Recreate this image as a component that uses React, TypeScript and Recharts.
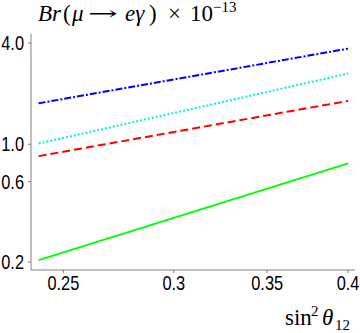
import { Line, LineChart, XAxis, YAxis } from "recharts";

// sin^2 theta_12 at the two ends of each curve
const sinSq12 = [0.24, 0.4];

// Br(mu -> e gamma) x 10^-13
const brDashDot = [1.75, 3.7];
const brDotted = [1.01, 2.63];
const brDashed = [0.85, 1.81];
const brSolid = [0.205, 0.77];

const xTicks = [0.25, 0.3, 0.35, 0.4];
const yTicks = [0.2, 0.6, 1.0, 4.0];

const data = sinSq12.map((x, i) => ({
  x,
  dashDot: brDashDot[i],
  dotted: brDotted[i],
  dashed: brDashed[i],
  solid: brSolid[i],
}));

const frame = "#808080";
const serif = "'Liberation Serif', serif";

// narrow helvetica-looking tick labels
function NarrowTick(props: any) {
  const { x, y, payload, textAnchor, vertical, fmt } = props;
  return (
    <g transform={`translate(${x},${y})`}>
      <text
        transform="scale(0.82,1)"
        textAnchor={textAnchor}
        dy={vertical ? "0.355em" : "0.71em"}
        fontFamily="'Liberation Sans', Arial, sans-serif"
        fontSize={20}
        fill="#000"
      >
        {fmt(payload.value)}
      </text>
    </g>
  );
}

export default function App() {
  return (
    <div
      style={{
        position: "absolute",
        left: 0,
        top: 0,
        width: 360,
        height: 333,
        background: "#fff",
      }}
    >
      <LineChart
        width={360}
        height={333}
        data={data}
        margin={{ top: 34, right: 5, bottom: 33, left: 0 }}
      >
        <XAxis
          dataKey="x"
          type="number"
          scale="log"
          domain={[0.237, 0.4046]}
          allowDataOverflow
          ticks={xTicks}
          tick={<NarrowTick fmt={(v: number) => String(v)} />}
          tickSize={3}
          tickMargin={3}
          height={30}
          stroke={frame}
        />
        <XAxis
          xAxisId="top"
          dataKey="x"
          type="number"
          scale="log"
          domain={[0.237, 0.4046]}
          allowDataOverflow
          orientation="top"
          tick={false}
          height={0}
          stroke={frame}
        />
        <YAxis
          type="number"
          scale="log"
          domain={[0.179, 4.52]}
          allowDataOverflow
          ticks={yTicks}
          tick={<NarrowTick vertical fmt={(v: number) => v.toFixed(1)} />}
          tickSize={3}
          tickMargin={4}
          width={31}
          stroke={frame}
        />
        <YAxis
          yAxisId="right"
          type="number"
          scale="log"
          domain={[0.179, 4.52]}
          allowDataOverflow
          orientation="right"
          tick={false}
          width={0}
          stroke={frame}
        />
        <Line
          dataKey="dashDot"
          stroke="#0000ff"
          strokeWidth={2}
          strokeDasharray="7 2 2 2"
          dot={false}
          isAnimationActive={false}
        />
        <Line
          dataKey="dotted"
          stroke="#00f0d0"
          strokeWidth={2}
          strokeDasharray="2 2"
          dot={false}
          isAnimationActive={false}
        />
        <Line
          dataKey="dashed"
          stroke="#ff0000"
          strokeWidth={2}
          strokeDasharray="8 4"
          dot={false}
          isAnimationActive={false}
        />
        <Line
          dataKey="solid"
          stroke="#00ff00"
          strokeWidth={2}
          dot={false}
          isAnimationActive={false}
        />
      </LineChart>
      <svg
        width={360}
        height={333}
        style={{ position: "absolute", left: 0, top: 0, pointerEvents: "none" }}
      >
        <g fontFamily={serif} fontSize={23} fill="#000">
          <text x={38} y={21} fontStyle="italic">Br</text>
          <text x={63} y={21}>(</text>
          <text x={72} y={21} fontStyle="italic">μ</text>
          <text
            x={88}
            y={20}
            fontFamily="'DejaVu Serif', serif"
            fontSize={20}
            textLength={30}
            lengthAdjust="spacingAndGlyphs"
          >
            →
          </text>
          <text x={125} y={21} fontStyle="italic">eγ</text>
          <text x={149} y={21}>)</text>
          <text x={168} y={21}>×</text>
          <text x={190} y={21}>10</text>
          <text x={213} y={12} fontSize={15}>−13</text>
          <text x={285} y={325}>sin</text>
          <text x={311} y={316} fontSize={15}>2</text>
          <text x={322} y={325} fontStyle="italic">θ</text>
          <text x={335} y={330} fontSize={15}>12</text>
        </g>
      </svg>
    </div>
  );
}
